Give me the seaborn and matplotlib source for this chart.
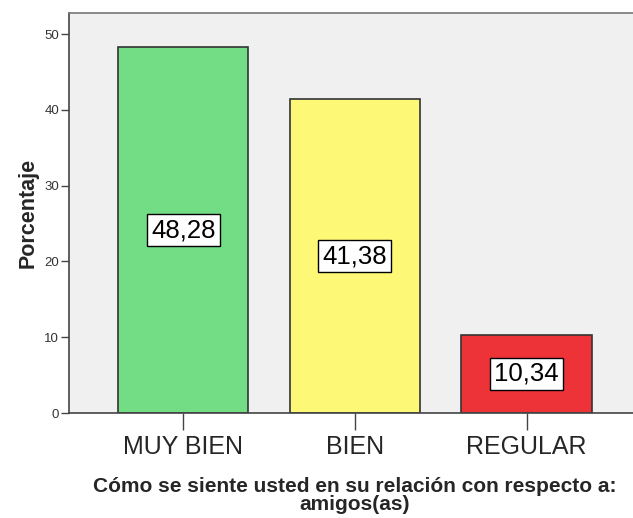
import matplotlib
matplotlib.use('Agg')
import matplotlib.pyplot as plt
import seaborn as sns
import pandas as pd

# datos del gráfico
categorias = ["MUY BIEN", "BIEN", "REGULAR"]
porcentajes = [48.28, 41.38, 10.34]
colores = ["#72DD85", "#FDF875", "#EE3338"]
yticks = [0, 10, 20, 30, 40, 50]

sns.set_theme(style="white")
plt.rcParams['font.family'] = ['Liberation Sans', 'DejaVu Sans']

df = pd.DataFrame({"cat": categorias, "pct": porcentajes})

fig = plt.figure(figsize=(6.33, 5.18), dpi=100)
ax = fig.add_axes([0.109, 0.2027, 0.891, 0.7723])
ax.set_facecolor("#F0F0F0")

sns.barplot(data=df, x="cat", y="pct", hue="cat", palette=colores,
            order=categorias, hue_order=categorias, legend=False,
            width=0.76, edgecolor="#333333", linewidth=1.2, saturation=1,
            ax=ax)

for i, v in enumerate(porcentajes):
    ax.text(i, v / 2, f"{v:.2f}".replace(".", ","), ha='center', va='center',
            fontsize=18.5, color="black",
            bbox=dict(boxstyle="square,pad=0.16", facecolor="white",
                      edgecolor="black", linewidth=1))

ax.set_xlim(-0.665, 2.62)
ax.set_ylim(0, 52.8)
ax.set_yticks(yticks)
ax.set_yticklabels([str(t) for t in yticks], fontsize=9.5, color="#333333")
ax.tick_params(axis='y', length=6, width=1, color="#444444", direction='out', left=True, pad=1)
ax.tick_params(axis='x', length=12, width=1, color="#444444", direction='out', bottom=True,
               labelsize=18, pad=4)

for s in ["left", "bottom"]:
    ax.spines[s].set_color("#444444")
    ax.spines[s].set_linewidth(1.2)
ax.spines["top"].set_color("#777777")
ax.spines["top"].set_linewidth(1.2)
ax.spines["right"].set_visible(False)

ax.set_ylabel("Porcentaje", fontsize=15.5, fontweight='bold', labelpad=4)
ax.set_xlabel("Cómo se siente usted en su relación con respecto a:\namigos(as)",
              fontsize=15, fontweight='bold', linespacing=0.95)
ax.xaxis.set_label_coords(0.507, -0.16)

plt.savefig("out.png", dpi=100)
plt.close()
